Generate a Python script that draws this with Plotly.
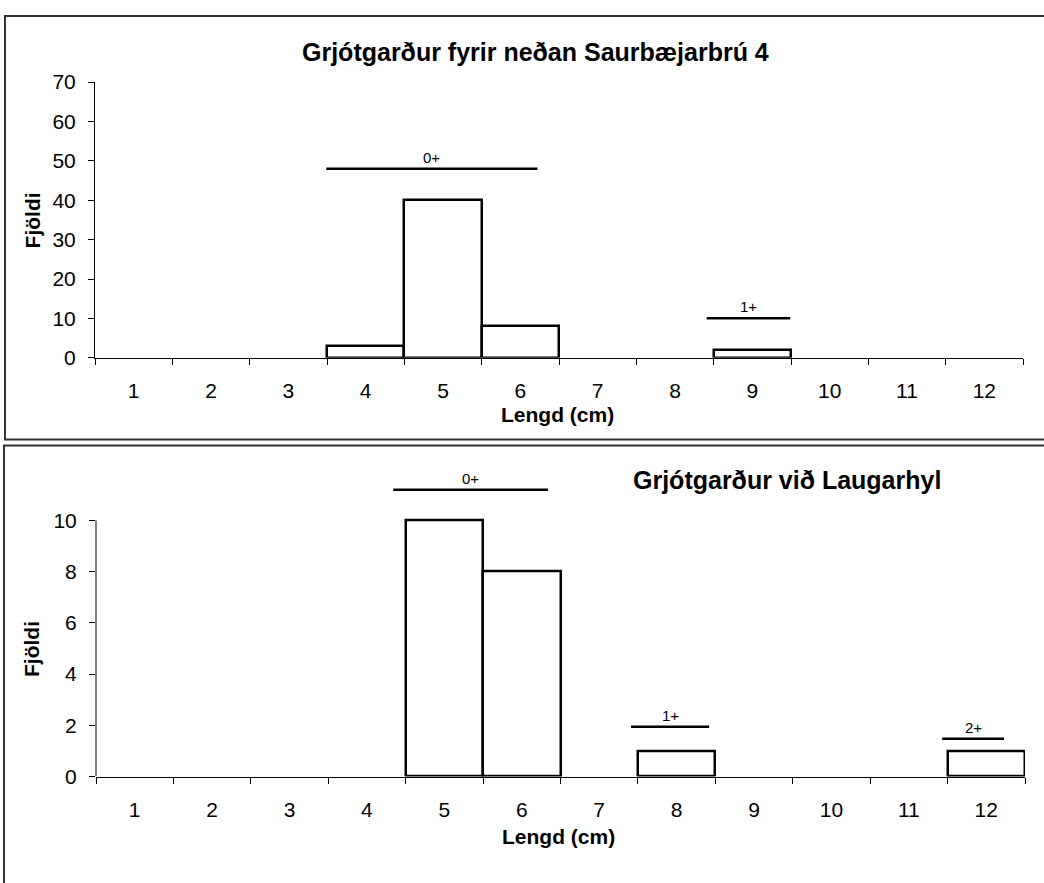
import plotly.graph_objects as go

# ---------------- data ----------------
lengths = ["1", "2", "3", "4", "5", "6", "7", "8", "9", "10", "11", "12"]

title_top = "Grjótgarður fyrir neðan Saurbæjarbrú 4"
bar_len_top = ["4", "5", "6", "9"]
bar_cnt_top = [3, 40, 8, 2]
age_lbl_top = ["0+", "1+"]
age_from_top = [3.49, 8.41]
age_to_top = [6.22, 9.49]
age_y_top = [48, 10]

title_bot = "Grjótgarður við Laugarhyl"
bar_len_bot = ["5", "6", "8", "12"]
bar_cnt_bot = [10, 8, 1, 1]
age_lbl_bot = ["0+", "1+", "2+"]
age_from_bot = [4.34, 7.41, 11.43]
age_to_bot = [6.34, 8.42, 12.23]
age_y_bot = [11.2, 1.94, 1.48]

y_ticks_top = [0, 10, 20, 30, 40, 50, 60, 70]
y_ticks_bot = [0, 2, 4, 6, 8, 10]

x_title = "Lengd (cm)"
y_title = "Fjöldi"

# ---------------- figure ----------------
W, H = 1044, 883
FONT = "Liberation Sans, Arial, sans-serif"

def px(x):
    return x / W

def py(y):
    return (H - y) / H

fig = go.Figure()

bar_style = dict(marker=dict(color="white", line=dict(color="black", width=2.5)),
                 showlegend=False, width=1.0)
fig.add_trace(go.Bar(x=bar_len_top, y=bar_cnt_top, xaxis="x", yaxis="y", **bar_style))
fig.add_trace(go.Bar(x=bar_len_bot, y=bar_cnt_bot, xaxis="x2", yaxis="y2", **bar_style))

xcommon = dict(type="category", categoryorder="array", categoryarray=lengths,
               range=[-0.5, len(lengths) - 0.5], tickson="boundaries",
               ticks="outside", ticklen=6, tickcolor="black", tickwidth=1,
               showline=True, linecolor="black", linewidth=1,
               showgrid=False, zeroline=False, fixedrange=True,
               tickfont=dict(family=FONT, size=21, color="black"),
               ticklabelstandoff=14)
ycommon = dict(ticks="outside", ticklen=6, tickcolor="black", tickwidth=1,
               showgrid=False, zeroline=False, fixedrange=True,
               tickfont=dict(family=FONT, size=21, color="black"),
               ticklabelstandoff=8)

fig.update_layout(
    width=W, height=H,
    margin=dict(l=0, r=0, t=0, b=0),
    paper_bgcolor="white", plot_bgcolor="white",
    bargap=0, showlegend=False,
    xaxis=dict(domain=[px(95), px(1023)], anchor="y", **xcommon),
    yaxis=dict(domain=[py(355), py(72)], anchor="x", range=[0, 70],
               tickvals=y_ticks_top, showline=True, linecolor="black", linewidth=1,
               **ycommon),
    xaxis2=dict(domain=[px(96), px(1025)], anchor="y2", **xcommon),
    yaxis2=dict(domain=[py(785), py(785 - 12.5 * 26.3)], anchor="x2", range=[0, 12.5],
                tickvals=y_ticks_bot, showline=False, **ycommon),
)

shapes = []
annots = []

# panel borders
shapes.append(dict(type="rect", xref="paper", yref="paper",
                   x0=px(5), x1=1.02, y0=py(439), y1=py(4),
                   line=dict(color="#333333", width=2), fillcolor="rgba(0,0,0,0)"))
shapes.append(dict(type="rect", xref="paper", yref="paper",
                   x0=px(4), x1=1.02, y0=-0.02, y1=py(445),
                   line=dict(color="#333333", width=2), fillcolor="rgba(0,0,0,0)"))

# left axis line for bottom chart (only up to the top tick)
shapes.append(dict(type="line", xref="x2 domain", yref="y2", x0=0, x1=0,
                   y0=y_ticks_bot[0], y1=y_ticks_bot[-1],
                   line=dict(color="black", width=1)))

# age-group spans
def add_spans(lbls, x0s, x1s, ys, xr, yr):
    for lbl, a, b, yv in zip(lbls, x0s, x1s, ys):
        shapes.append(dict(type="line", xref=xr, yref=yr, x0=a - 1, x1=b - 1, y0=yv, y1=yv,
                           line=dict(color="black", width=2.5)))
        annots.append(dict(xref=xr, yref=yr, x=(a + b) / 2 - 1, y=yv, text=lbl,
                           showarrow=False, yanchor="bottom", yshift=1,
                           font=dict(family=FONT, size=15, color="black")))

add_spans(age_lbl_top, age_from_top, age_to_top, age_y_top, "x", "y")
add_spans(age_lbl_bot, age_from_bot, age_to_bot, age_y_bot, "x2", "y2")

# titles
bold = dict(family=FONT, size=25, color="black")
annots.append(dict(xref="paper", yref="paper", x=px(535), y=py(41), text="<b>%s</b>" % title_top,
                   showarrow=False, xanchor="center", yanchor="middle", font=bold))
annots.append(dict(xref="paper", yref="paper", x=px(787), y=py(481), text="<b>%s</b>" % title_bot,
                   showarrow=False, xanchor="center", yanchor="middle", font=bold))

axfont = dict(family=FONT, size=21, color="black")
for xx, yy in [(557, 413), (558, 847)]:
    annots.append(dict(xref="paper", yref="paper", x=px(xx), y=py(yy), text="<b>%s</b>" % x_title,
                       showarrow=False, xanchor="center", yanchor="middle", font=axfont))
for xx, yy in [(32, 214), (32, 654)]:
    annots.append(dict(xref="paper", yref="paper", x=px(xx), y=py(yy), text="<b>%s</b>" % y_title,
                       showarrow=False, xanchor="center", yanchor="middle", textangle=-90,
                       font=axfont))

fig.update_layout(shapes=shapes, annotations=annots)
fig.write_html("out.html", config={"displayModeBar": False},
               post_script="document.body.style.margin='0';document.body.style.overflow='hidden';")
